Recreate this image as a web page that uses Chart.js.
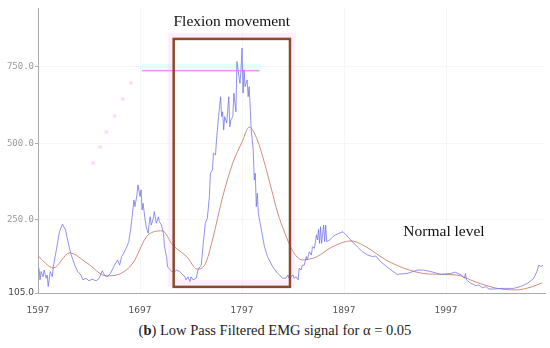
<!DOCTYPE html>
<html>
<head>
<meta charset="utf-8">
<script src="https://cdn.jsdelivr.net/npm/chart.js@4"></script>
<style>
  html, body { margin: 0; padding: 0; background: #fff; }
  #wrap { position: relative; width: 550px; height: 348px; }
  #box { position: absolute; left: 0; top: 0; width: 550px; height: 316px; }
  #caption { position: absolute; left: 0; top: 320px; width: 550px; text-align: center;
             font: 14.5px "Liberation Serif", serif; color: #222; line-height: 20px; }
</style>
</head>
<body>
<div id="wrap">
  <div id="box"><canvas id="myChart"></canvas></div>
  <div id="caption">(<b>b</b>) Low Pass Filtered EMG signal for α = 0.05</div>
</div>
<script>
// raw EMG (blue)
const blueX = [1598,1599,1600,1602,1603,1605,1606,1607,1609,1611,
  1612,1615,1618,1621,1624,1626,1629,1633,1636,1639,
  1641,1644,1647,1650,1654,1657,1660,1662,1665,1668,
  1672,1675,1677,1679,1681,1684,1686,1688,1690,1691,
  1692,1694,1695,1697,1698,1699,1700,1702,1703,1705,
  1706,1707,1708,1710,1711,1713,1715,1716,1718,1720,
  1721,1723,1724,1728,1731,1733,1736,1739,1741,1742,
  1744,1746,1747,1749,1752,1754,1757,1759,1761,1763,
  1765,1766,1768,1769,1771,1772,1774,1776,1777,1778,
  1779,1780,1782,1784,1785,1786,1788,1789,1791,1792,
  1794,1795,1796,1797,1798,1799,1800,1802,1803,1804,
  1805,1806,1807,1808,1809,1810,1811,1812,1813,1816,
  1819,1822,1827,1832,1837,1840,1842,1843,1847,1848,
  1850,1852,1853,1855,1856,1858,1860,1861,1863,1865,
  1866,1868,1870,1871,1872,1873,1874,1875,1877,1878,
  1879,1880,1883,1886,1889,1892,1896,1899,1902,1905,
  1910,1915,1920,1925,1928,1933,1940,1949,1959,1969,
  1975,1982,1992,2002,2006,2012,2015,2016,2017,2021,
  2024,2026,2029,2033,2036,2039,2044,2050,2063,2070,
  2077,2083,2086,2088,2090,2092];
const blueY = [92,54,81,64,86,59,70,32,81,64,
  97,152,211,236,217,184,141,102,81,70,
  54,59,51,56,51,59,84,70,64,75,
  102,119,102,130,141,162,179,223,282,315,
  293,331,364,326,348,282,304,250,228,206,
  239,260,233,255,277,239,260,244,233,206,
  162,130,97,81,81,86,81,70,64,54,
  64,48,64,54,59,88,102,173,239,255,
  326,402,413,468,462,511,587,652,587,603,
  544,587,566,652,554,576,587,664,603,767,
  718,696,740,811,664,740,685,707,652,685,
  620,544,511,478,380,402,293,337,271,217,
  162,130,97,75,59,59,70,59,70,59,
  64,54,92,86,102,102,130,119,146,135,
  162,157,201,184,219,173,228,173,233,179,
  233,179,184,195,201,206,211,201,190,179,
  162,146,135,130,132,113,94,72,75,86,
  86,81,72,75,79,70,59,75,54,43,
  39,35,37,28,32,24,24,26,26,32,
  43,59,81,102,97,102];

// low pass filtered (red)
const redX = [1597,1612,1628,1645,1664,1677,1690,1705,1719,1729,
  1743,1753,1761,1768,1778,1788,1797,1804,1812,1819,
  1826,1832,1839,1846,1856,1870,1885,1904,1919,1938,
  1961,1980,2007,2026,2046,2065,2081,2091];
const redY = [132,93,142,109,67,73,109,201,214,168,
  129,89,106,184,325,436,504,553,511,436,
  348,272,207,152,119,129,161,181,161,119,
  86,73,70,47,27,21,31,44];

// leftover marks in the figure
const pinkLineX = [1699, 1814];
const pinkLineY = [737, 737];
const cyanBandX = [1697, 1816];
const cyanBandY = [746, 746];
const dotX = [1651, 1658, 1664, 1672, 1680, 1688];
const dotY = [436, 488, 537, 589, 645, 697];

const xTicks = [1597, 1697, 1797, 1897, 1997];
const yTickValues = [11, 250, 500, 750];
const yTickLabels = ['105.0', '250.0', '500.0', '750.0'];

const flexBox = { x0: 1730, x1: 1844, y0: 31, y1: 841 };
const notes = [
  { text: 'Flexion movement', x: 1787, y: 897 },
  { text: 'Normal level', x: 1995, y: 210 }
];

function pts(xs, ys) {
  return xs.map((x, i) => ({ x: x, y: ys[i] }));
}

const boxPlugin = {
  id: 'boxPlugin',
  afterDatasetsDraw(chart) {
    const { ctx, scales: { x, y } } = chart;
    const L = x.getPixelForValue(flexBox.x0);
    const R = x.getPixelForValue(flexBox.x1);
    const T = y.getPixelForValue(flexBox.y1);
    const B = y.getPixelForValue(flexBox.y0);
    ctx.save();
    ctx.fillStyle = 'rgba(255,170,240,0.2)';
    ctx.fillRect(L - 6, T - 6, 6, B - T + 6);
    ctx.fillRect(L, T - 6, R - L + 6, 6);
    ctx.fillRect(R, T, 5, B - T);
    ctx.fillRect(L, B - 7, R - L, 7);
    ctx.strokeStyle = '#8a4b2d';
    ctx.lineWidth = 2.5;
    ctx.strokeRect(L, T, R - L, B - T);

    ctx.fillStyle = '#111';
    ctx.font = '15.5px "Liberation Serif"';
    ctx.textAlign = 'center';
    ctx.textBaseline = 'middle';
    notes.forEach(n => {
      ctx.fillText(n.text, x.getPixelForValue(n.x), y.getPixelForValue(n.y));
    });
    ctx.restore();
  }
};

const ctx = document.getElementById('myChart');

new Chart(ctx, {
  type: 'line',
  data: {
    datasets: [
      {
        data: pts(pinkLineX, pinkLineY),
        borderColor: '#ff66ee',
        borderWidth: 1,
        pointRadius: 0
      },
      {
        data: pts(dotX, dotY),
        showLine: false,
        pointStyle: 'rect',
        pointRadius: 2.5,
        borderWidth: 0,
        backgroundColor: 'rgba(255,185,245,0.5)'
      },
      {
        label: 'EMG',
        data: pts(blueX, blueY),
        borderColor: 'rgba(110,110,235,0.75)',
        borderWidth: 1,
        pointRadius: 0,
        tension: 0
      },
      {
        label: 'Filtered',
        data: pts(redX, redY),
        borderColor: '#cf8c7c',
        borderWidth: 1,
        pointRadius: 0,
        cubicInterpolationMode: 'monotone'
      },
      {
        data: pts(cyanBandX, cyanBandY),
        borderColor: 'rgba(210,255,255,0.6)',
        borderWidth: 8,
        pointRadius: 0
      }
    ]
  },
  options: {
    responsive: true,
    maintainAspectRatio: false,
    animation: false,
    layout: { padding: { top: 8, right: 5, left: 0, bottom: 0 } },
    plugins: {
      legend: { display: false },
      tooltip: { enabled: false }
    },
    scales: {
      x: {
        type: 'linear',
        min: 1597,
        max: 2094,
        afterBuildTicks: s => { s.ticks = xTicks.map(v => ({ value: v })); },
        afterFit: s => { s.height = 23; },
        ticks: {
          autoSkip: false,
          maxRotation: 0,
          padding: 12,
          color: '#555',
          font: { family: 'DejaVu Sans', size: 9 },
          callback: v => String(v)
        },
        grid: { color: '#f6f6f6', drawTicks: false },
        border: { color: '#aaa' }
      },
      y: {
        min: 11,
        max: 942,
        afterBuildTicks: s => { s.ticks = yTickValues.map(v => ({ value: v })); },
        afterFit: s => { s.width = 38; },
        ticks: {
          padding: 1,
          color: c => c.index === 0 ? '#444' : '#999',
          font: c => c.index === 0 ? { family: 'DejaVu Sans', size: 9 } : { family: 'DejaVu Sans Mono', size: 9 },
          callback: (v, i) => yTickLabels[i]
        },
        grid: { color: '#f6f6f6', tickLength: 3, tickColor: '#aaa' },
        border: { color: '#aaa' }
      }
    }
  },
  plugins: [boxPlugin]
});
</script>
</body>
</html>
